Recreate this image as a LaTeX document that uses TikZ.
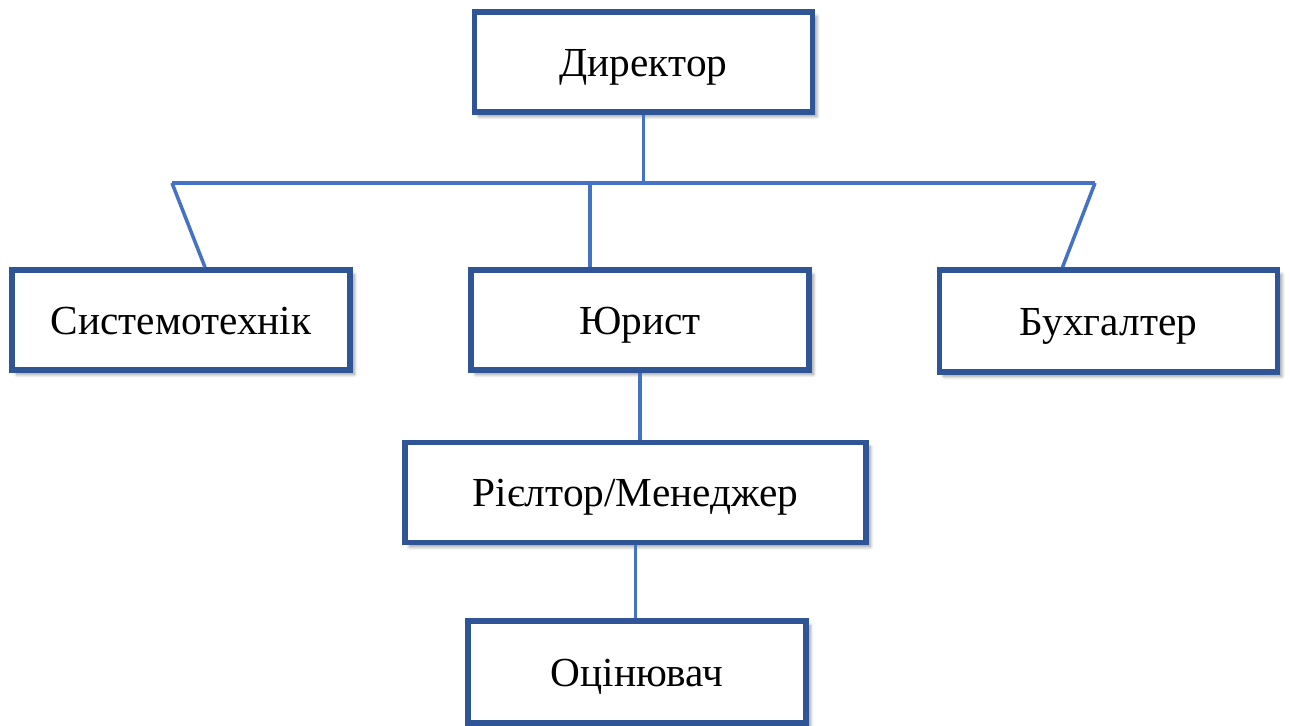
\documentclass[tikz,border=0pt]{standalone}
\usepackage{fontspec}
\setmainfont{Liberation Serif}
\usetikzlibrary{positioning,shadows.blur}
\definecolor{boxblue}{RGB}{47,85,151}
\definecolor{lineblue}{RGB}{68,114,196}

\begin{document}
\begin{tikzpicture}[x=0.02cm,y=-0.02cm,
  post/.style={rectangle,draw=boxblue,line width=3.2pt,fill=white,
    minimum width=6.76cm,minimum height=2cm,text height=16pt,text depth=0pt,
    font=\fontsize{23.5}{28}\selectfont,
    blur shadow={shadow xshift=2.5pt,shadow yshift=-2.5pt,shadow blur steps=8,shadow opacity=40}},
  link/.style={draw=lineblue,line width=2pt}]

	\useasboundingbox (0,0) rectangle (1290,725);

	\node[post] (dir) at (643.5,62) {Директор};
	\node[post] (sys) at (181,320) {Системотехнік};
	\node[post] (yur) at (640,320) {Юрист};
	\node[post, minimum height=2.04cm] (buh) at (1108.5,321) {Бухгалтер};
	\node[post, minimum width=9.22cm] (riel) at (635.5,492.5) {Рієлтор/Менеджер};
	\node[post, minimum height=2.04cm] (ots) at (637,672) {Оцінювач};

	\coordinate (busl) at (172,183);
	\coordinate (busr) at (1095,183);

	\path[link]
	(busl) edge (busr)
	(dir.south) edge (dir.south |- busl)
	(busl) edge ([xshift=0.48cm]sys.north)
	(busr) edge ([xshift=-0.92cm]buh.north)
	([xshift=-1cm]yur.north |- busl) edge ([xshift=-1cm]yur.north)
	(yur.south) edge (yur.south |- riel.north)
	(riel.south) edge (riel.south |- ots.north);
\end{tikzpicture}
\end{document}
